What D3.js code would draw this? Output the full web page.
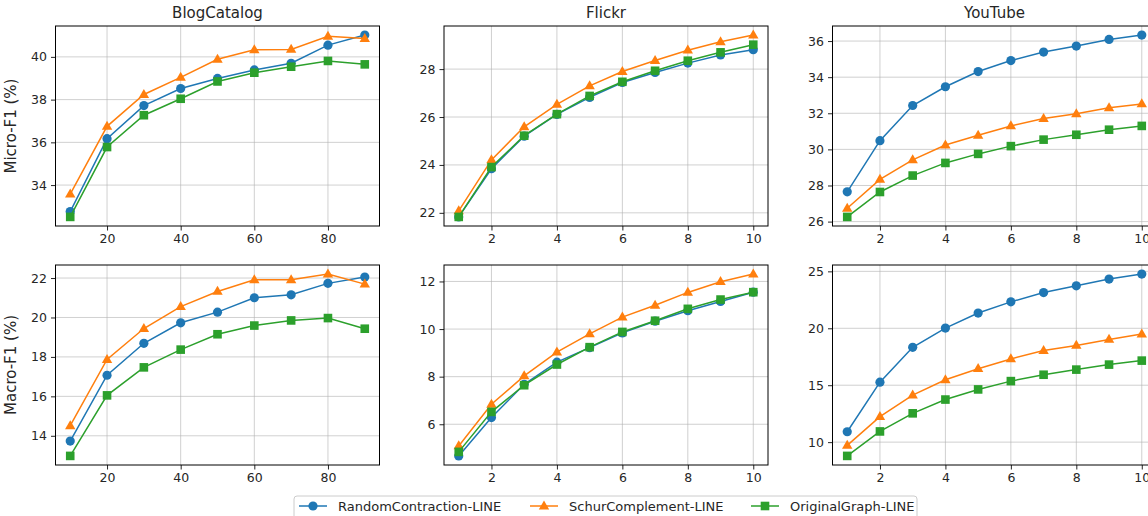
<!DOCTYPE html>
<html>
<head>
<meta charset="utf-8">
<script src="https://cdn.jsdelivr.net/npm/d3@7"></script>
<style>
  body { margin: 0; background: #fff; }
  svg text { font-family: "DejaVu Sans", sans-serif; fill: #262626; }
</style>
</head>
<body>
<div id="chart"></div>
<script>
// x values
var blogX = [10, 20, 30, 40, 50, 60, 70, 80, 90];
var ratioX = [1, 2, 3, 4, 5, 6, 7, 8, 9, 10];

var seriesNames = ["RandomContraction-LINE", "SchurComplement-LINE", "OriginalGraph-LINE"];
var colors = ["#1f77b4", "#ff7f0e", "#2ca02c"];
var shapes = ["circle", "triangle", "square"];

// Micro-F1
var blogMicroRandom = [32.76, 36.17, 37.72, 38.52, 38.99, 39.39, 39.70, 40.55, 41.02];
var blogMicroSchur = [33.58, 36.75, 38.24, 39.04, 39.89, 40.33, 40.35, 40.96, 40.86];
var blogMicroOrig = [32.51, 35.78, 37.27, 38.04, 38.85, 39.26, 39.54, 39.81, 39.65];

var flickrMicroRandom = [21.83, 23.84, 25.20, 26.11, 26.82, 27.44, 27.86, 28.25, 28.59, 28.81];
var flickrMicroSchur = [22.08, 24.21, 25.59, 26.53, 27.30, 27.90, 28.36, 28.79, 29.14, 29.42];
var flickrMicroOrig = [21.83, 23.91, 25.22, 26.12, 26.88, 27.47, 27.93, 28.35, 28.70, 29.02];

var ytMicroRandom = [27.65, 30.48, 32.43, 33.47, 34.31, 34.92, 35.39, 35.72, 36.09, 36.33];
var ytMicroSchur = [26.74, 28.34, 29.42, 30.24, 30.78, 31.30, 31.71, 31.97, 32.30, 32.52];
var ytMicroOrig = [26.26, 27.64, 28.55, 29.25, 29.75, 30.18, 30.54, 30.81, 31.09, 31.30];

// Macro-F1
var blogMacroRandom = [13.73, 17.07, 18.69, 19.73, 20.27, 21.00, 21.15, 21.73, 22.05];
var blogMacroSchur = [14.51, 17.87, 19.44, 20.55, 21.32, 21.91, 21.91, 22.20, 21.69];
var blogMacroOrig = [12.98, 16.05, 17.47, 18.37, 19.15, 19.59, 19.85, 19.97, 19.43];

var flickrMacroRandom = [4.67, 6.28, 7.68, 8.61, 9.22, 9.84, 10.33, 10.77, 11.16, 11.55];
var flickrMacroSchur = [5.09, 6.84, 8.03, 9.03, 9.80, 10.50, 11.00, 11.54, 11.99, 12.31];
var flickrMacroOrig = [4.84, 6.52, 7.64, 8.51, 9.24, 9.88, 10.35, 10.85, 11.24, 11.55];

var ytMacroRandom = [10.91, 15.27, 18.33, 20.02, 21.34, 22.32, 23.14, 23.73, 24.32, 24.76];
var ytMacroSchur = [9.71, 12.24, 14.13, 15.48, 16.45, 17.31, 18.05, 18.49, 19.02, 19.49];
var ytMacroOrig = [8.79, 10.94, 12.53, 13.74, 14.63, 15.36, 15.92, 16.37, 16.81, 17.16];

// ticks
var blogXTicks = [20, 40, 60, 80];
var ratioXTicks = [2, 4, 6, 8, 10];
var blogMicroYTicks = [34, 36, 38, 40];
var flickrMicroYTicks = [22, 24, 26, 28];
var ytMicroYTicks = [26, 28, 30, 32, 34, 36];
var blogMacroYTicks = [14, 16, 18, 20, 22];
var flickrMacroYTicks = [6, 8, 10, 12];
var ytMacroYTicks = [10, 15, 20, 25];

var titles = ["BlogCatalog", "Flickr", "YouTube"];
var yLabels = ["Micro-F1 (%)", "Macro-F1 (%)"];

var panels = [
  {row: 0, col: 0, x: blogX, xt: blogXTicks, yt: blogMicroYTicks, s: [blogMicroRandom, blogMicroSchur, blogMicroOrig]},
  {row: 0, col: 1, x: ratioX, xt: ratioXTicks, yt: flickrMicroYTicks, s: [flickrMicroRandom, flickrMicroSchur, flickrMicroOrig]},
  {row: 0, col: 2, x: ratioX, xt: ratioXTicks, yt: ytMicroYTicks, s: [ytMicroRandom, ytMicroSchur, ytMicroOrig]},
  {row: 1, col: 0, x: blogX, xt: blogXTicks, yt: blogMacroYTicks, s: [blogMacroRandom, blogMacroSchur, blogMacroOrig]},
  {row: 1, col: 1, x: ratioX, xt: ratioXTicks, yt: flickrMacroYTicks, s: [flickrMacroRandom, flickrMacroSchur, flickrMacroOrig]},
  {row: 1, col: 2, x: ratioX, xt: ratioXTicks, yt: ytMacroYTicks, s: [ytMacroRandom, ytMacroSchur, ytMacroOrig]}
];

var W = 1148, H = 516;
var colLeft = [55.5, 444, 832.5];
var rowTop = [26, 265];
var pw = 324, ph = 200;

var svg = d3.select("#chart").append("svg")
    .attr("width", W).attr("height", H);

// margin like matplotlib (5%)
function pad(ext) {
  var m = (ext[1] - ext[0]) * 0.05;
  return [ext[0] - m, ext[1] + m];
}

function drawMarker(g, shape, color) {
  if (shape == "circle") {
    g.append("circle").attr("r", 4.6).attr("fill", color);
  } else if (shape == "triangle") {
    g.append("path").attr("d", "M0,-5.6L5.2,3.4L-5.2,3.4Z").attr("fill", color);
  } else {
    g.append("rect").attr("x", -4.3).attr("y", -4.3).attr("width", 8.6).attr("height", 8.6).attr("fill", color);
  }
}

panels.forEach(function(p) {
  var x0 = colLeft[p.col], y0 = rowTop[p.row];
  var g = svg.append("g").attr("transform", "translate(" + x0 + "," + y0 + ")");

  var xs = d3.scaleLinear().domain(pad(d3.extent(p.x))).range([0, pw]);
  var allY = [].concat(p.s[0], p.s[1], p.s[2]);
  var ys = d3.scaleLinear().domain(pad(d3.extent(allY))).range([ph, 0]);

  // grid
  g.append("g").selectAll("line.vg").data(p.xt).enter().append("line")
    .attr("x1", function(d) { return xs(d); }).attr("x2", function(d) { return xs(d); })
    .attr("y1", 0).attr("y2", ph)
    .attr("stroke", "#b0b0b0").attr("stroke-opacity", 0.6).attr("stroke-width", 1);
  g.append("g").selectAll("line.hg").data(p.yt).enter().append("line")
    .attr("x1", 0).attr("x2", pw)
    .attr("y1", function(d) { return ys(d); }).attr("y2", function(d) { return ys(d); })
    .attr("stroke", "#b0b0b0").attr("stroke-opacity", 0.6).attr("stroke-width", 1);

  // axes
  var xAxis = d3.axisBottom(xs).tickValues(p.xt).tickSize(4.5).tickPadding(4).tickFormat(d3.format("d"));
  var yAxis = d3.axisLeft(ys).tickValues(p.yt).tickSize(4.5).tickPadding(4).tickFormat(d3.format("d"));
  var gx = g.append("g").attr("transform", "translate(0," + ph + ")").call(xAxis);
  var gy = g.append("g").call(yAxis);
  [gx, gy].forEach(function(a) {
    a.select(".domain").remove();
    a.selectAll("line").attr("stroke", "#262626");
    a.selectAll("text").attr("font-size", "12.5px").attr("font-family", "DejaVu Sans").attr("fill", "#262626");
  });

  // series
  var line = d3.line()
    .x(function(d, i) { return xs(p.x[i]); })
    .y(function(d) { return ys(d); });

  p.s.forEach(function(vals, k) {
    g.append("path").datum(vals)
      .attr("d", line).attr("fill", "none")
      .attr("stroke", colors[k]).attr("stroke-width", 1.5);
    g.append("g").selectAll("g").data(vals).enter().append("g")
      .attr("transform", function(d, i) { return "translate(" + xs(p.x[i]) + "," + ys(d) + ")"; })
      .each(function() { drawMarker(d3.select(this), shapes[k], colors[k]); });
  });

  // frame
  g.append("rect").attr("width", pw).attr("height", ph)
    .attr("fill", "none").attr("stroke", "#000").attr("stroke-width", 1);

  if (p.row == 0) {
    g.append("text").attr("x", pw / 2).attr("y", -8)
      .attr("text-anchor", "middle").attr("font-size", "15px")
      .text(titles[p.col]);
  }
  if (p.col == 0) {
    g.append("text")
      .attr("transform", "translate(" + (-40) + "," + (ph / 2) + ") rotate(-90)")
      .attr("text-anchor", "middle").attr("font-size", "15px")
      .text(yLabels[p.row]);
  }
});

// legend
var legend = svg.append("g").attr("transform", "translate(294,496)");
legend.append("rect").attr("width", 623).attr("height", 30).attr("rx", 3)
  .attr("fill", "#fff").attr("stroke", "#cccccc").attr("stroke-width", 1);

var itemX = [5, 236, 457];
var item = legend.selectAll(".legend")
  .data(seriesNames)
  .enter().append("g")
  .attr("class", "legend")
  .attr("transform", function(d, i) { return "translate(" + itemX[i] + ",10)"; });

item.append("line").attr("x1", 0).attr("x2", 28).attr("y1", 0).attr("y2", 0)
  .attr("stroke", function(d, i) { return colors[i]; }).attr("stroke-width", 1.5);
item.append("g").attr("transform", "translate(14,0)")
  .each(function(d, i) { drawMarker(d3.select(this), shapes[i], colors[i]); });
item.append("text")
  .attr("x", 39).attr("y", 0).attr("dy", ".35em")
  .attr("font-size", "13px")
  .text(function(d) { return d; });
</script>
</body>
</html>
